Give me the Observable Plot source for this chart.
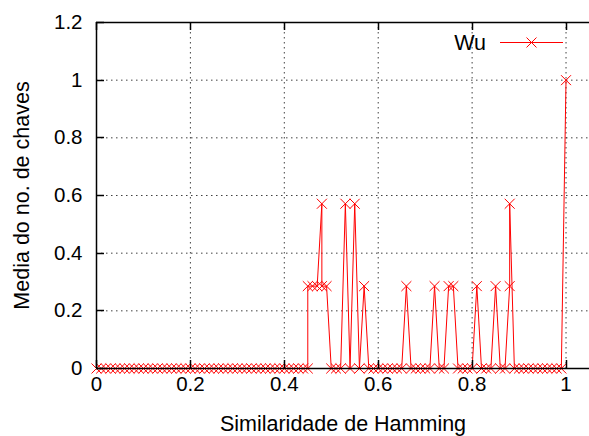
<!DOCTYPE html>
<html>
<head>
<meta charset="utf-8">
<script src="https://cdn.jsdelivr.net/npm/d3@7"></script>
<script src="https://cdn.jsdelivr.net/npm/@observablehq/plot@0.6"></script>
<style>
  html, body { margin: 0; padding: 0; background: #fff; }
  #chart { width: 589px; height: 436px; }
</style>
</head>
<body>
<div id="chart"></div>
<script>
// Similaridade de Hamming (x) and média do nº de chaves (y), series "Wu"
const similaridade = [
  0.00, 0.01, 0.02, 0.03, 0.04, 0.05, 0.06, 0.07, 0.08, 0.09,
  0.10, 0.11, 0.12, 0.13, 0.14, 0.15, 0.16, 0.17, 0.18, 0.19,
  0.20, 0.21, 0.22, 0.23, 0.24, 0.25, 0.26, 0.27, 0.28, 0.29,
  0.30, 0.31, 0.32, 0.33, 0.34, 0.35, 0.36, 0.37, 0.38, 0.39,
  0.40, 0.41, 0.42, 0.43, 0.44, 0.45,
  0.45, 0.46, 0.47, 0.48, 0.48, 0.49,
  0.50, 0.51, 0.52, 0.53, 0.54, 0.55, 0.56, 0.57, 0.58, 0.59,
  0.60, 0.61, 0.62, 0.63, 0.64, 0.65, 0.66, 0.67, 0.68, 0.69,
  0.70, 0.71, 0.72, 0.73, 0.74, 0.75, 0.76, 0.77, 0.78, 0.79,
  0.80, 0.81, 0.82, 0.83, 0.84, 0.85, 0.86, 0.87, 0.88, 0.88, 0.89,
  0.90, 0.91, 0.92, 0.93, 0.94, 0.95, 0.96, 0.97, 0.98, 0.99,
  1.00
];
const mediaChaves = [
  0, 0, 0, 0, 0, 0, 0, 0, 0, 0,
  0, 0, 0, 0, 0, 0, 0, 0, 0, 0,
  0, 0, 0, 0, 0, 0, 0, 0, 0, 0,
  0, 0, 0, 0, 0, 0, 0, 0, 0, 0,
  0, 0, 0, 0, 0, 0,
  0.2857, 0.2857, 0.2857, 0.5714, 0.2857, 0.2857,
  0, 0, 0, 0.5714, 0, 0.5714, 0, 0.2857, 0, 0,
  0, 0, 0, 0, 0, 0, 0.2857, 0, 0, 0,
  0, 0, 0.2857, 0, 0, 0.2857, 0.2857, 0, 0, 0,
  0, 0.2857, 0, 0, 0, 0.2857, 0, 0, 0.2857, 0.5714, 0,
  0, 0, 0, 0, 0, 0, 0, 0, 0, 0,
  1
];
const serieNome = "Wu";
const xTicks = [0, 0.2, 0.4, 0.6, 0.8, 1];
const yTicks = [0, 0.2, 0.4, 0.6, 0.8, 1, 1.2];
const xTitulo = "Similaridade de Hamming";
const yTitulo = "Media do no. de chaves";

const pontos = similaridade.map((x, i) => ({x, y: mediaChaves[i]}));

const font = "'Liberation Sans', Arial, Helvetica, sans-serif";
const fsTick = 20.5;
const fsTitle = 21.5;

const plot = Plot.plot({
  width: 589,
  height: 436,
  marginTop: 22,
  marginBottom: 68,
  marginLeft: 96,
  marginRight: 0,
  x: {domain: [0, 1.05], axis: null},
  y: {domain: [0, 1.2], axis: null},
  style: {fontFamily: font, fontSize: fsTick + "px", background: "#fff", color: "#000", overflow: "visible"},
  marks: [
    // dotted grid
    Plot.ruleX(xTicks, {stroke: "#000", strokeOpacity: 0.75, strokeDasharray: "1.5,3.5"}),
    Plot.ruleY(yTicks, {stroke: "#000", strokeOpacity: 0.75, strokeDasharray: "1.5,3.5"}),
    // series
    Plot.line(pontos, {x: "x", y: "y", stroke: "#ff0000", strokeWidth: 1}),
    Plot.dot(pontos, {x: "x", y: "y", symbol: "times", r: 4.6, stroke: "#ff0000", strokeWidth: 1}),
    // border
    Plot.ruleY([0, 1.2], {stroke: "#000", strokeWidth: 1.5}),
    Plot.ruleX([0], {stroke: "#000", strokeWidth: 1.5}),
    // tick labels
    Plot.axisX({ticks: xTicks, tickSize: 0, tickPadding: 8, tickFormat: d => String(d), label: null, fontSize: fsTick}),
    Plot.axisY({ticks: yTicks, tickSize: 0, tickPadding: 14, tickFormat: d => String(d), label: null, fontSize: fsTick}),
    // axis titles
    Plot.text([xTitulo], {frameAnchor: "bottom", dy: 56, fontSize: fsTitle, lineAnchor: "middle", textAnchor: "middle"}),
    Plot.text([yTitulo], {frameAnchor: "left", dx: -74, rotate: -90, fontSize: fsTitle, lineAnchor: "middle", textAnchor: "middle"})
  ]
});

// inward major ticks on the left, bottom and top sides
const sx = plot.scale("x"), sy = plot.scale("y");
const svg = d3.select(plot);
const tickLen = 8;
const g = svg.append("g").attr("stroke", "#000").attr("stroke-width", 1.5);
const yBottom = sy.apply(0), yTop = sy.apply(1.2), xLeft = sx.apply(0);
for (const t of xTicks) {
  const px = Math.round(sx.apply(t)) + 0.5;
  g.append("line").attr("x1", px).attr("x2", px).attr("y1", yBottom).attr("y2", yBottom - tickLen);
  g.append("line").attr("x1", px).attr("x2", px).attr("y1", yTop).attr("y2", yTop + tickLen);
}
for (const t of yTicks) {
  const py = Math.round(sy.apply(t)) + 0.5;
  g.append("line").attr("x1", xLeft).attr("x2", xLeft + tickLen).attr("y1", py).attr("y2", py);
}

// key
const key = svg.append("g").attr("transform", "translate(0,42.5)");
key.append("text").attr("x", 486).attr("dy", "0.35em").attr("text-anchor", "end")
  .attr("font-family", font).attr("font-size", fsTitle).attr("fill", "#000").text(serieNome);
key.append("line").attr("x1", 500).attr("x2", 563).attr("stroke", "#ff0000").attr("stroke-width", 1);
key.append("path").attr("transform", "translate(531.5,0)")
  .attr("d", d3.symbol(d3.symbolTimes, Math.PI * 4.6 * 4.6)())
  .attr("fill", "none").attr("stroke", "#ff0000").attr("stroke-width", 1);

document.getElementById("chart").appendChild(plot);
</script>
</body>
</html>
